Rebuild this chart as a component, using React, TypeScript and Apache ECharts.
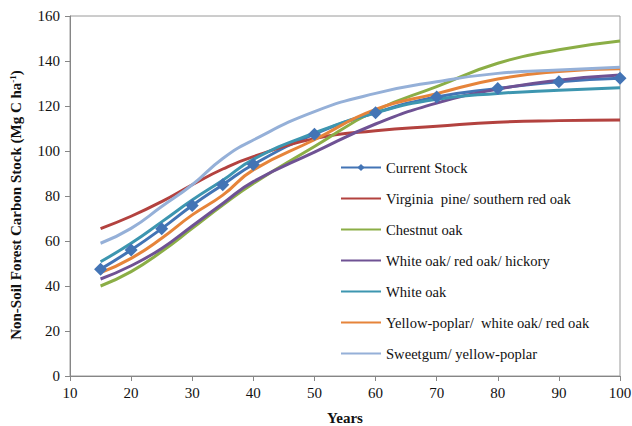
import React, { useEffect, useRef } from "react";
import * as echarts from "echarts";

const years = [15, 20, 25, 30, 35, 40, 50, 60, 70, 80, 90, 100];
const seriesNames = [
  "Current Stock",
  "Virginia  pine/ southern red oak",
  "Chestnut oak",
  "White oak/ red oak/ hickory",
  "White oak",
  "Yellow-poplar/  white oak/ red oak",
  "Sweetgum/ yellow-poplar",
];
const currentStock = [47.5, 56, 65.5, 75.8, 85, 94, 107.5, 117, 124, 127.8, 130.8, 132.3];
const virginiaPine = [65.5, 71, 77.5, 85, 92, 97.5, 105.5, 109, 111, 112.8, 113.5, 113.8];
const chestnutOak = [40, 46.4, 55.3, 65.6, 76, 85.6, 102, 118, 128.6, 139, 145, 148.9];
const whiteRedHickory = [43.1, 49, 56.7, 66.7, 76.7, 86.4, 99.5, 112, 121.3, 127.5, 131.5, 133.8];
const whiteOak = [50.8, 59, 68.5, 78.2, 87, 96.3, 108, 117, 123, 125.6, 127, 128.1];
const yellowPoplar = [45.9, 52.3, 61.2, 71.6, 80.4, 91.6, 105, 118.5, 125.5, 132, 135.3, 136.5];
const sweetgum = [59, 65.6, 75.3, 85, 96.7, 104.9, 117.5, 125.6, 130.8, 134.5, 136, 137.2];
const colors = ["#4374B5", "#B3423F", "#8BAE46", "#6F5294", "#3D96B0", "#E6843A", "#95B0D8"];

const FONT = "Liberation Serif";

export default function App() {
  const ref = useRef<HTMLDivElement>(null);
  useEffect(() => {
    if (!ref.current) return;
    const chart = echarts.init(ref.current, null, { renderer: "svg" });
    const allData = [currentStock, virginiaPine, chestnutOak, whiteRedHickory, whiteOak, yellowPoplar, sweetgum];
    const series = allData.map((vals, i) => ({
      name: seriesNames[i],
      type: "line",
      smooth: true,
      data: years.map((x, j) => [x, vals[j]]),
      symbol: i === 0 ? "diamond" : "none",
      symbolSize: i === 0 ? 13 : 0,
      showSymbol: i === 0,
      lineStyle: { width: 3, color: colors[i] },
      itemStyle: { color: colors[i] },
      z: 2,
    }));
    const legendData = seriesNames.map((n, i) =>
      i === 0 ? { name: n } : { name: n, itemStyle: { opacity: 0 } }
    );
    chart.setOption({
      animation: false,
      backgroundColor: "#fff",
      textStyle: { fontFamily: FONT },
      grid: {
        left: 70,
        right: 12,
        top: 16,
        bottom: 50,
        show: true,
        borderColor: "#9a9a9a",
        borderWidth: 1,
        containLabel: false,
        outerBoundsMode: "none",
      },
      legend: {
        orient: "vertical",
        left: 335,
        top: 155,
        itemWidth: 40,
        itemHeight: 9,
        itemGap: 16,
        data: legendData,
        textStyle: { fontFamily: FONT, fontSize: 14.6, color: "#111" },
      },
      xAxis: {
        type: "value",
        min: 10,
        max: 100,
        interval: 10,
        name: "Years",
        nameLocation: "middle",
        nameGap: 34,
        nameTextStyle: { fontFamily: FONT, fontSize: 15, fontWeight: "bold", color: "#111" },
        axisLine: { show: true, lineStyle: { color: "#868686" } },
        axisTick: { show: true, length: 5, lineStyle: { color: "#868686" } },
        splitLine: { show: false },
        axisLabel: { fontFamily: FONT, fontSize: 15, color: "#111", margin: 9 },
      },
      yAxis: {
        type: "value",
        min: 0,
        max: 160,
        interval: 20,
        name: "{a|Non-Soil Forest Carbon Stock (Mg C ha}{s|-1}{a|)}",
        nameLocation: "middle",
        nameGap: 46,
        nameTextStyle: {
          fontFamily: FONT,
          fontSize: 15,
          fontWeight: "bold",
          color: "#111",
          padding: [0, 18, 0, 0],
          rich: {
            a: { fontFamily: FONT, fontSize: 15, fontWeight: "bold", color: "#111", lineHeight: 16 },
            s: { fontFamily: FONT, fontSize: 9, fontWeight: "bold", color: "#111", verticalAlign: "top", lineHeight: 16 },
          },
        },
        axisLine: { show: true, lineStyle: { color: "#868686" } },
        axisTick: { show: true, length: 5, lineStyle: { color: "#868686" } },
        splitLine: { show: false },
        axisLabel: { fontFamily: FONT, fontSize: 15, color: "#111", margin: 10 },
      },
      series,
    });
    return () => chart.dispose();
  }, []);
  return <div ref={ref} style={{ width: 632, height: 426, position: "absolute", left: 0, top: 0 }} />;
}
